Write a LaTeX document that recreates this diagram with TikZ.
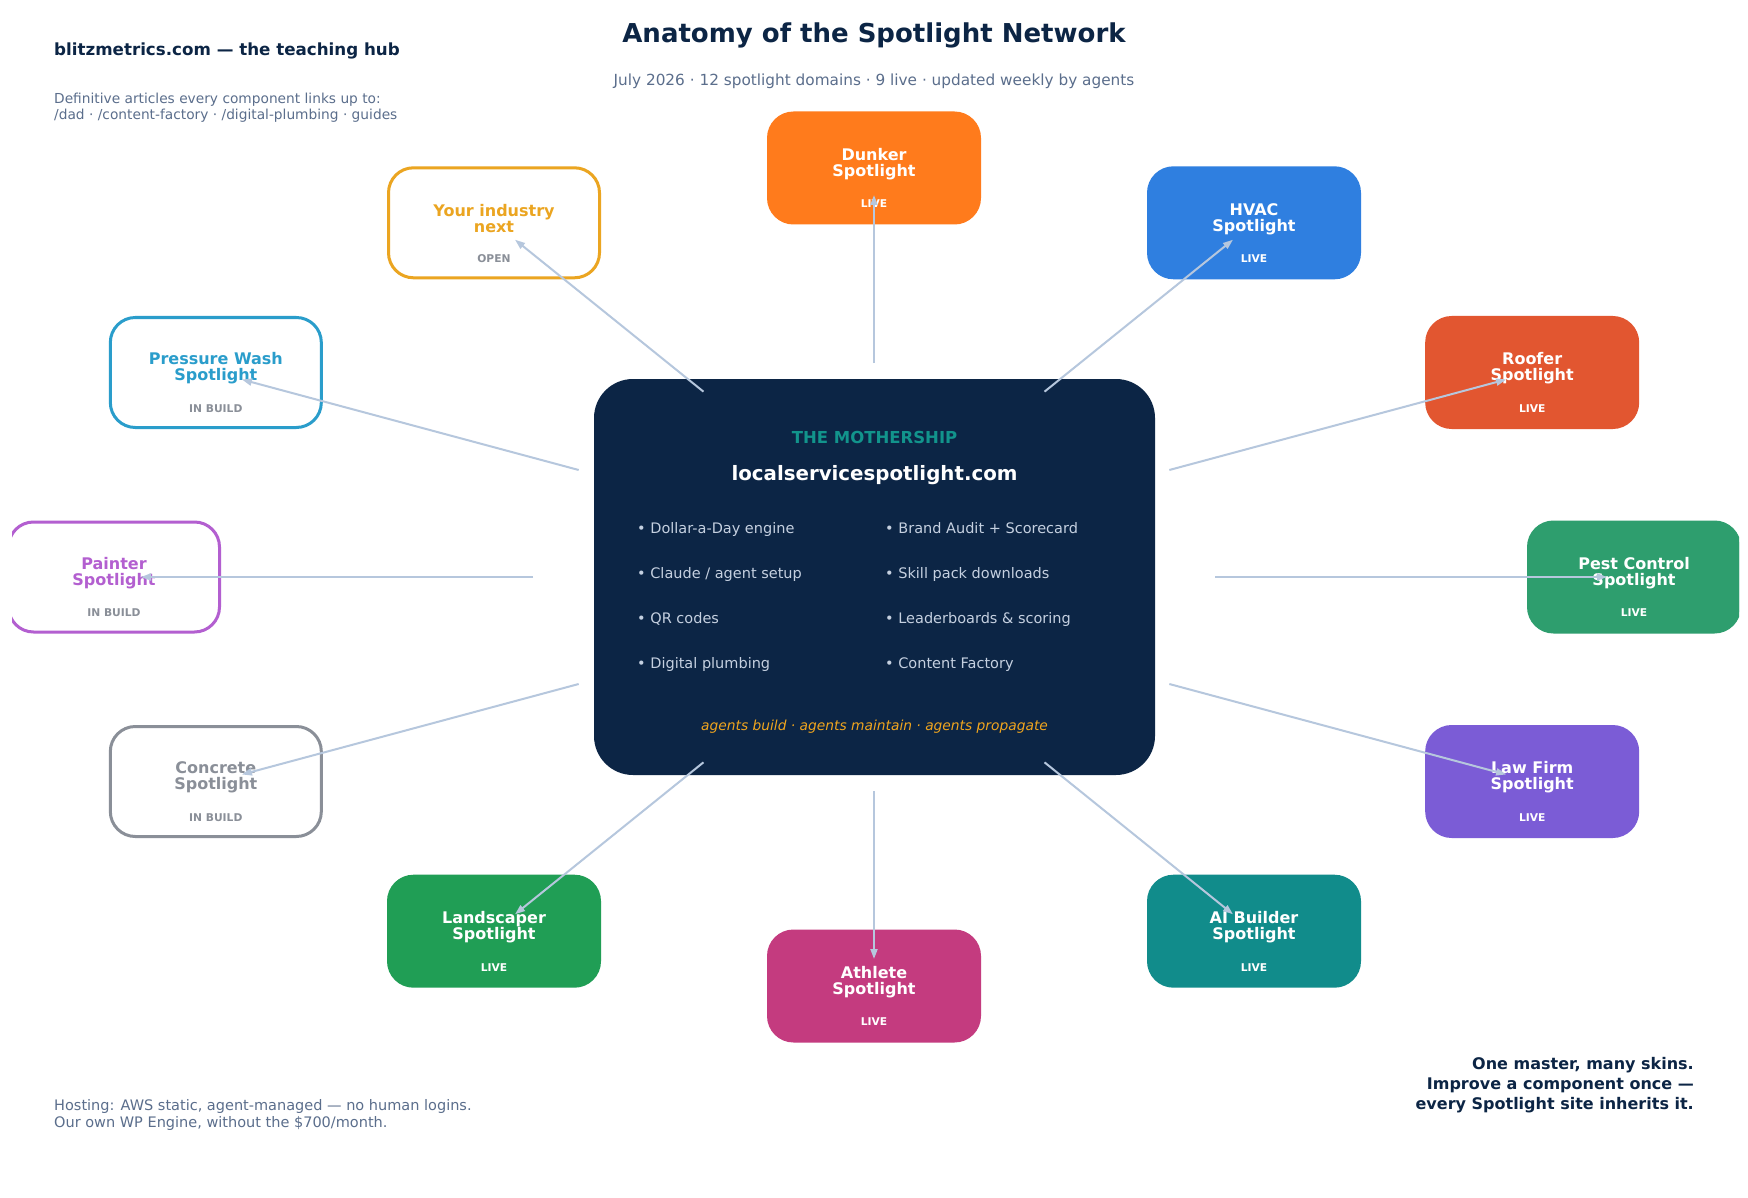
\documentclass[tikz,border=0pt]{standalone}
\usepackage{fontspec}
\setmainfont{DejaVu Sans}
\usetikzlibrary{arrows.meta,calc}

\definecolor{navy}{HTML}{0C2545}
\definecolor{slate}{HTML}{5B6E8C}
\definecolor{linkc}{HTML}{B6C7DD}
\definecolor{bulletc}{HTML}{C5D0E0}
\definecolor{tealt}{HTML}{12948C}
\definecolor{gold}{HTML}{F0A51E}
\definecolor{dunkerc}{HTML}{FF7B1C}
\definecolor{hvacc}{HTML}{2F7FE0}
\definecolor{rooferc}{HTML}{E25630}
\definecolor{pestc}{HTML}{2E9E6E}
\definecolor{lawc}{HTML}{7B5CD6}
\definecolor{aibc}{HTML}{118C8B}
\definecolor{athletec}{HTML}{C43B7F}
\definecolor{landc}{HTML}{209E55}
\definecolor{concretec}{HTML}{8A8F98}
\definecolor{painterc}{HTML}{B35FD0}
\definecolor{pwashc}{HTML}{2A9DCB}
\definecolor{industryc}{HTML}{EBA521}
\definecolor{statusg}{HTML}{8A8F98}

\tikzset{
  satbox/.style={rectangle, minimum width=211pt, minimum height=110pt,
    rounded corners=25pt, line width=3pt, inner sep=0pt},
  sattitle/.style={align=center, inner sep=0pt,
    font=\bfseries\fontsize{16}{16}\selectfont},
  satstatus/.style={inner sep=0pt, font=\bfseries\fontsize{10.7}{12}\selectfont},
  hubbox/.style={rectangle, minimum width=561pt, minimum height=396pt,
    rounded corners=39pt, fill=navy, draw=none},
  bullet/.style={anchor=west, inner sep=0pt, text=bulletc,
    text height=10.5pt, text depth=3.4pt,
    font=\fontsize{14.5}{17}\selectfont},
  spoke/.style={draw=linkc, line width=2pt,
    -{Triangle[length=10pt,width=7pt]}},
}

% one satellite site: name, angle, fill, border, title colour, status colour, title, status
\newcommand\satellite[8]{%
  \node[satbox, fill=#3, draw=#4] (#1) at ({874+760*cos(#2)},{577-409*sin(#2)}) {};
  \node[sattitle, text=#5] (#1-title) at ($(#1.center)+(0,-4)$) {#7};
  \node[satstatus, text=#6] (#1-status) at ($(#1.center)+(0,36)$) {#8};
  \coordinate (#1-from) at ({874+341*cos(#2)},{577-214*sin(#2)});
}

\begin{document}
\begin{tikzpicture}[x=1pt,y=-1pt]
\useasboundingbox (0,0) rectangle (1748,1198);
\fill[white] (0,0) rectangle (1748,1198);

% headings
\node[text=navy, font=\bfseries\fontsize{26}{30}\selectfont] (title) at (874,35)
  {Anatomy of the Spotlight Network};
\node[text=slate, font=\fontsize{15.3}{18}\selectfont] (subtitle) at (874,81)
  {July 2026 · 12 spotlight domains · 9 live · updated weekly by agents};

\node[anchor=west, inner sep=0pt, text=navy, font=\bfseries\fontsize{16.7}{19}\selectfont]
  (hub-name) at (54,51) {blitzmetrics.com — the teaching hub};
\node[anchor=west, inner sep=0pt, align=left, text=slate, font=\fontsize{13.75}{16}\selectfont]
  (hub-note) at (54,108) {Definitive articles every component links up to:\\
  /dad · /content-factory · /digital-plumbing · guides};

\node[anchor=west, inner sep=0pt, align=left, text=slate, font=\fontsize{14.5}{17}\selectfont]
  (hosting) at (54,1115) {Hosting: AWS static, agent-managed — no human logins.\\
  Our own WP Engine, without the \$700/month.};
\node[anchor=east, inner sep=0pt, align=right, text=navy, font=\bfseries\fontsize{16}{20}\selectfont]
  (motto) at (1694,1085) {One master, many skins.\\
  Improve a component once —\\ every Spotlight site inherits it.};

% the mothership
\node[hubbox] (hub) at (874.5,577) {};
\node[text=tealt, font=\bfseries\fontsize{16.5}{19}\selectfont] (hub-tag) at (874.5,437) {THE MOTHERSHIP};
\node[text=white, font=\bfseries\fontsize{19.8}{22}\selectfont] (hub-url) at (874.5,475) {localservicespotlight.com};
\node[bullet] (b1) at (637,530) {• Dollar-a-Day engine};
\node[bullet] (b2) at (637,575) {• Claude / agent setup};
\node[bullet] (b3) at (637,620) {• QR codes};
\node[bullet] (b4) at (637,665) {• Digital plumbing};
\node[bullet] (b5) at (885,530) {• Brand Audit + Scorecard};
\node[bullet] (b6) at (885,575) {• Skill pack downloads};
\node[bullet] (b7) at (885,620) {• Leaderboards \& scoring};
\node[bullet] (b8) at (885,665) {• Content Factory};
\node[text=gold, font=\itshape\fontsize{13.8}{16}\selectfont] (hub-motto) at (874.5,727)
  {agents build · agents maintain · agents propagate};

% satellites around the hub
\begin{scope}
\clip (12,0) rectangle (1739,1198);
\satellite{dunker}{90}{dunkerc}{dunkerc}{white}{white}{Dunker\\Spotlight}{LIVE}
\satellite{hvac}{60}{hvacc}{hvacc}{white}{white}{HVAC\\Spotlight}{LIVE}
\satellite{roofer}{30}{rooferc}{rooferc}{white}{white}{Roofer\\Spotlight}{LIVE}
\satellite{pest}{0}{pestc}{pestc}{white}{white}{Pest Control\\Spotlight}{LIVE}
\satellite{law}{-30}{lawc}{lawc}{white}{white}{Law Firm\\Spotlight}{LIVE}
\satellite{aib}{-60}{aibc}{aibc}{white}{white}{AI Builder\\Spotlight}{LIVE}
\satellite{athlete}{-90}{athletec}{athletec}{white}{white}{Athlete\\Spotlight}{LIVE}
\satellite{land}{-120}{landc}{landc}{white}{white}{Landscaper\\Spotlight}{LIVE}
\satellite{concrete}{-150}{white}{concretec}{concretec}{statusg}{Concrete\\Spotlight}{IN BUILD}
\satellite{painter}{180}{white}{painterc}{painterc}{statusg}{Painter\\Spotlight}{IN BUILD}
\satellite{pwash}{150}{white}{pwashc}{pwashc}{statusg}{Pressure Wash\\Spotlight}{IN BUILD}
\satellite{industry}{120}{white}{industryc}{industryc}{statusg}{Your industry\\next}{OPEN}

% spokes from the hub out to every site
\foreach \s in {dunker,hvac,roofer,pest,law,aib,athlete,land,concrete,painter,pwash,industry}
  \draw[spoke] (\s-from) -- ($(\s.center)!27pt!(\s-from)$);
\end{scope}
\end{tikzpicture}
\end{document}
